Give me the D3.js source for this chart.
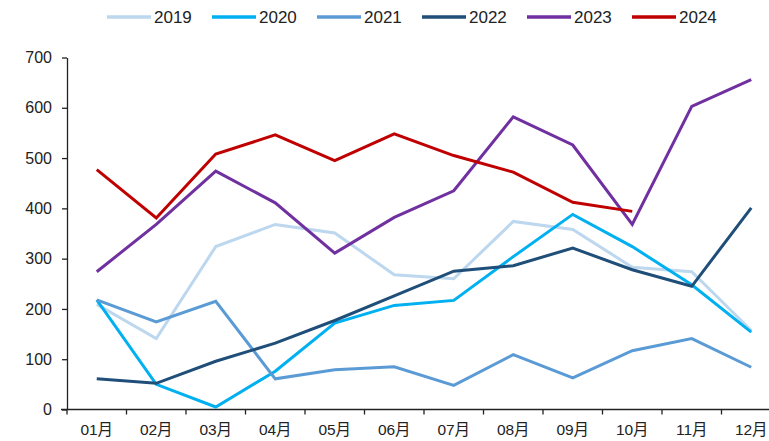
<!DOCTYPE html>
<html><head><meta charset="utf-8">
<script src="https://cdn.jsdelivr.net/npm/d3@7"></script>
<style>body{margin:0;background:#fff}svg{display:block}</style>
</head><body>
<svg id="c" width="769" height="441"></svg>
<script>
const months = ["01月","02月","03月","04月","05月","06月","07月","08月","09月","10月","11月","12月"];
const years = ["2019","2020","2021","2022","2023","2024"];
const colors = ["#bdd7ee","#00b0f0","#5b9bd5","#1f4e79","#7030a0","#c00000"];
const s2019 = [209,141,324,368,351,268,260,374,358,283,274,157];
const s2020 = [218,50,5,76,172,207,217,304,388,324,248,154];
const s2021 = [218,174,215,61,79,85,48,109,63,117,141,84];
const s2022 = [61,52,96,132,177,226,275,286,321,278,245,401];
const s2023 = [274,368,474,411,311,382,435,582,526,368,603,656];
const s2024 = [477,381,508,546,495,548,505,472,412,394];
const yTicks = [0,100,200,300,400,500,600,700];
const seriesVals = [s2019,s2020,s2021,s2022,s2023,s2024];

const svg = d3.select("#c");
const mLeft = 67, mRight = 781, mTop = 57.5, mBottom = 409.5;
const x = d3.scaleBand().domain(months).range([mLeft, mRight]);
const y = d3.scaleLinear().domain([0,700]).range([mBottom, mTop]);
const font = "'Liberation Sans', Arial, 'Noto Sans CJK SC', sans-serif";

// Y axis
const ya = svg.append("g").attr("transform",`translate(${mLeft},0)`)
  .call(d3.axisLeft(y).tickValues(yTicks).tickSize(5).tickPadding(10).tickSizeOuter(0));
ya.select(".domain").attr("stroke","#222").attr("stroke-width",1.3);
ya.selectAll(".tick line").attr("stroke","#222").attr("stroke-width",1.3);
ya.selectAll(".tick text").attr("font-family",font).attr("font-size",16).attr("fill","#222");

// X axis line
svg.append("line").attr("x1",mLeft-6).attr("x2",mRight).attr("y1",mBottom).attr("y2",mBottom)
  .attr("stroke","#222").attr("stroke-width",1.3);
// x ticks at band edges
const edges = months.map(m => x(m)).concat([x(months[months.length-1]) + x.step()]);
svg.append("g").selectAll("line").data(edges).join("line")
  .attr("x1",d=>d).attr("x2",d=>d).attr("y1",mBottom).attr("y2",mBottom+5)
  .attr("stroke","#222").attr("stroke-width",1.3);
svg.append("g").selectAll("text").data(months).join("text")
  .attr("x",d=>x(d)+x.bandwidth()/2).attr("y",mBottom+25)
  .attr("text-anchor","middle").attr("font-family",font)
  .attr("font-size",15.5).attr("fill","#222").text(d=>d);

// Lines
const line = d3.line().x((d,i)=>x(months[i])+x.bandwidth()/2).y(d=>y(d));
seriesVals.forEach((vals,k)=>{
  svg.append("path").datum(vals).attr("d",line).attr("fill","none")
    .attr("stroke",colors[k]).attr("stroke-width",3).attr("stroke-linejoin","miter");
});

// Legend
const lg = svg.append("g");
years.forEach((yr,k)=>{
  const x0 = 107 + k*105;
  lg.append("line").attr("x1",x0).attr("x2",x0+44).attr("y1",17).attr("y2",17)
    .attr("stroke",colors[k]).attr("stroke-width",3.5);
  lg.append("text").attr("x",x0+47).attr("y",23).attr("font-family",font)
    .attr("font-size",17).attr("fill","#222").text(yr);
});
</script>
</body></html>
